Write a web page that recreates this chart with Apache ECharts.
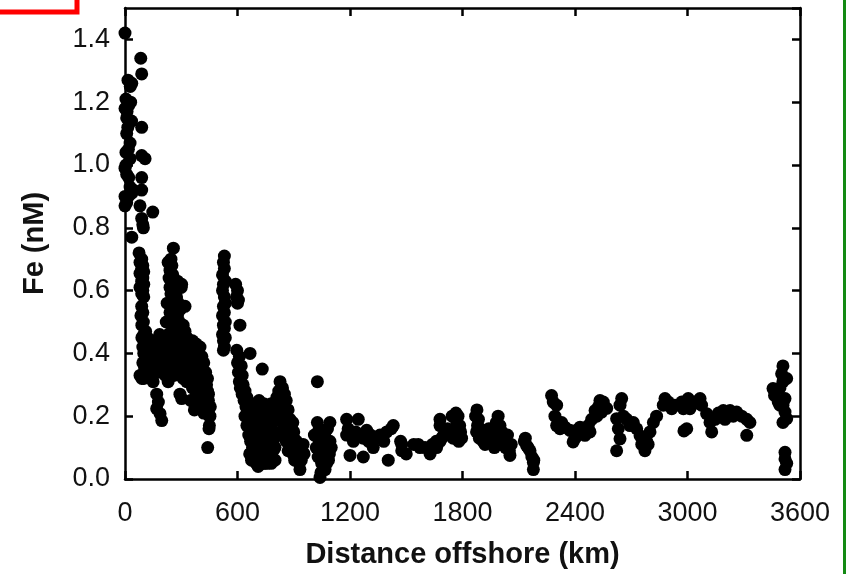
<!DOCTYPE html>
<html>
<head>
<meta charset="utf-8">
<script src="https://cdn.jsdelivr.net/npm/echarts@6/dist/echarts.min.js"></script>
<style>
html,body{margin:0;padding:0;background:#fff;}
#chart{width:846px;height:574px;}
</style>
</head>
<body>
<div id="chart"></div>
<script>
// Tick labels
const xTicks = [0, 600, 1200, 1800, 2400, 3000, 3600];
const yTicks = [0.0, 0.2, 0.4, 0.6, 0.8, 1.0, 1.2, 1.4];

// Data: [distance offshore (km), Fe (nM)]
const nearshore = [[0,1.42],[84,1.34],[89,1.29],[16,1.27],[36,1.26],[28,1.25],[5,1.21],[30,1.20],[20,1.19],[0,1.18],[11,1.17],[9,1.15],[89,1.12],[9,1.10],[27,1.07],[18,1.05],[5,1.04],[89,1.03],[107,1.02],[27,1.02],[5,1.00],[0,0.99],[9,0.97],[89,0.96],[27,0.93],[44,0.92],[89,0.92],[0,0.90],[9,0.88],[0,0.87],[80,0.87],[148,0.85],[89,0.83],[98,0.80],[36,0.77],[95,0.81],[18,0.90],[36,0.91],[20,0.96],[15,1.12],[35,1.14]];
const segA = [[75,0.72],[89,0.70],[80,0.69],[95,0.68],[89,0.67],[100,0.66],[80,0.655],[95,0.64],[89,0.63],[100,0.62],[80,0.61],[95,0.60],[89,0.59],[100,0.58],[89,0.55],[95,0.53],[85,0.52],[98,0.50],[90,0.49],[110,0.47],[100,0.46],[120,0.45],[90,0.45],[105,0.44],[130,0.43],[95,0.42],[115,0.41],[140,0.41],[100,0.40],[125,0.39],[110,0.38],[135,0.37],[95,0.37],[120,0.36],[140,0.35],[105,0.35],[130,0.34],[80,0.33],[100,0.32],[90,0.32],[145,0.33],[150,0.31],[169,0.27],[178,0.245],[169,0.224],[187,0.208],[196,0.186]];
const segB = [[258,0.735],[245,0.70],[230,0.69],[250,0.68],[240,0.665],[255,0.65],[235,0.64],[250,0.63],[265,0.625],[240,0.61],[255,0.60],[270,0.61],[300,0.61],[302,0.62],[245,0.59],[260,0.57],[250,0.55],[270,0.55],[320,0.55],[260,0.53],[280,0.52],[255,0.51],[290,0.50],[270,0.49],[310,0.49],[300,0.48],[250,0.47],[275,0.46],[320,0.47],[230,0.46],[210,0.45],[290,0.44],[340,0.44],[215,0.43],[260,0.42],[300,0.42],[350,0.42],[230,0.41],[280,0.40],[320,0.40],[360,0.40],[250,0.39],[300,0.38],[340,0.38],[220,0.37],[270,0.36],[320,0.36],[370,0.36],[240,0.35],[290,0.34],[350,0.34],[380,0.33],[260,0.33],[310,0.32],[230,0.31],[293,0.27],[302,0.256],[329,0.31]];
const segB2 = [[200,0.44],[215,0.40],[225,0.38],[240,0.43],[245,0.38],[255,0.36],[265,0.40],[280,0.37],[285,0.43],[295,0.40],[305,0.36],[315,0.43],[330,0.42],[335,0.35],[345,0.37],[355,0.38],[365,0.33],[375,0.30],[385,0.38],[395,0.34],[405,0.31],[415,0.29],[425,0.27],[435,0.30],[395,0.28],[385,0.25],[405,0.26],[415,0.24],[425,0.22],[435,0.26],[445,0.27],[455,0.23],[160,0.44],[170,0.40],[180,0.42],[190,0.38],[165,0.36],[175,0.34],[185,0.46],[195,0.41],[205,0.35],[215,0.33],[150,0.38],[155,0.43],[275,0.58],[285,0.56],[265,0.59],[295,0.54],[280,0.63],[280,0.47],[300,0.45],[310,0.44],[330,0.45],[240,0.53],[225,0.56],[220,0.50]];
const segC = [[360,0.44],[380,0.43],[400,0.42],[370,0.41],[390,0.40],[410,0.39],[420,0.37],[400,0.36],[380,0.35],[430,0.34],[410,0.33],[390,0.32],[440,0.32],[420,0.31],[400,0.30],[430,0.29],[410,0.28],[440,0.28],[380,0.27],[420,0.26],[445,0.25],[400,0.25],[430,0.24],[410,0.23],[440,0.22],[420,0.21],[450,0.20],[360,0.29],[350,0.25],[370,0.22],[453,0.20],[450,0.17],[448,0.16],[441,0.10]];
const segD = [[530,0.71],[525,0.69],[530,0.67],[520,0.65],[535,0.63],[525,0.62],[520,0.60],[530,0.58],[535,0.56],[525,0.55],[530,0.53],[520,0.52],[535,0.50],[525,0.49],[530,0.48],[520,0.46],[535,0.45],[525,0.44],[530,0.42],[525,0.41]];
const segE = [[590,0.62],[600,0.60],[595,0.58],[605,0.57],[600,0.56],[613,0.49]];
const segF = [[596,0.41],[610,0.39],[600,0.37],[620,0.36],[605,0.34],[625,0.33],[610,0.31],[630,0.30],[615,0.29],[640,0.28],[625,0.27],[650,0.26],[635,0.25],[660,0.24],[645,0.23],[670,0.22],[655,0.21],[680,0.20],[665,0.19],[690,0.18],[700,0.17],[675,0.16],[710,0.15],[685,0.14],[720,0.13],[695,0.12],[730,0.11],[705,0.10],[740,0.09],[715,0.08],[750,0.07],[725,0.06],[760,0.05],[735,0.05],[667,0.40],[732,0.35],[700,0.22],[720,0.20],[740,0.19],[760,0.18],[750,0.15],[770,0.14],[760,0.12],[780,0.11],[790,0.09],[770,0.08],[800,0.06],[780,0.05],[700,0.05],[690,0.07],[710,0.12],[730,0.16],[750,0.22],[740,0.24],[680,0.10],[700,0.09]];
const segF2 = [[640,0.20],[650,0.17],[660,0.14],[670,0.12],[680,0.15],[690,0.21],[705,0.19],[715,0.22],[725,0.18],[735,0.14],[745,0.12],[755,0.10],[765,0.16],[775,0.20],[785,0.18],[795,0.15],[790,0.12],[800,0.10],[720,0.09],[730,0.07],[745,0.05],[755,0.08],[765,0.06],[775,0.10],[710,0.04],[720,0.05],[690,0.10],[700,0.14],[685,0.17],[695,0.24],[715,0.25],[770,0.22],[780,0.24],[790,0.20],[665,0.08],[675,0.06]];
const segG = [[827,0.31],[840,0.29],[820,0.28],[850,0.27],[830,0.26],[860,0.25],[815,0.24],[845,0.23],[870,0.22],[825,0.21],[855,0.20],[880,0.19],[840,0.18],[865,0.17],[890,0.16],[850,0.15],[875,0.14],[900,0.13],[860,0.12],[885,0.11],[910,0.10],[870,0.09],[895,0.08],[920,0.07],[905,0.06],[933,0.03],[930,0.05],[800,0.23],[810,0.19],[830,0.14],[900,0.15],[915,0.12]];
const segG2 = [[810,0.26],[820,0.22],[835,0.20],[845,0.17],[855,0.13],[865,0.15],[875,0.11],[885,0.14],[895,0.10],[905,0.09],[915,0.08],[925,0.09],[940,0.06],[835,0.27],[860,0.22],[870,0.19],[880,0.16],[890,0.12],[895,0.18],[920,0.10],[945,0.09],[950,0.11],[955,0.08]];
const segH = [[1026,0.31],[1026,0.18],[1093,0.18],[1031,0.13],[1040,0.11],[1076,0.10],[1049,0.05],[1040,0.005],[1067,0.03],[1093,0.12],[1060,0.08],[1055,0.15],[1020,0.10],[1085,0.06],[1045,0.02],[1070,0.12],[1010,0.14],[1035,0.16],[1050,0.12],[1065,0.14],[1080,0.16],[1100,0.10],[1090,0.08],[1055,0.09],[1030,0.07],[1075,0.05]];
const segI = [[1182,0.19],[1244,0.19],[1182,0.14],[1218,0.12],[1200,0.075],[1271,0.07],[1289,0.155],[1253,0.14],[1230,0.15],[1270,0.13],[1300,0.12],[1324,0.10],[1360,0.14],[1396,0.15],[1431,0.17],[1404,0.06],[1340,0.13],[1380,0.12],[1310,0.14],[1420,0.16],[1190,0.16],[1210,0.15]];
const segJ = [[1476,0.11],[1476,0.09],[1470,0.12],[1500,0.08],[1540,0.11],[1564,0.11],[1573,0.10],[1600,0.10],[1627,0.08],[1640,0.11],[1660,0.12],[1680,0.19],[1680,0.17],[1689,0.13],[1662,0.10],[1680,0.12],[1700,0.14],[1720,0.16],[1733,0.15],[1745,0.20],[1750,0.13]];
const segK = [[1765,0.21],[1776,0.20],[1770,0.18],[1785,0.17],[1760,0.16],[1790,0.15],[1775,0.14],[1795,0.13],[1780,0.12]];
const segL = [[1877,0.22],[1870,0.20],[1885,0.19],[1880,0.17],[1895,0.16],[1875,0.15],[1900,0.14],[1890,0.13],[1910,0.12],[1920,0.11],[1930,0.14],[1950,0.12],[1960,0.15],[1990,0.20],[1980,0.18],[2000,0.17],[2010,0.15],[1985,0.13],[2020,0.12],[2030,0.10],[2040,0.14],[2050,0.09],[2053,0.075],[2060,0.11],[1940,0.16],[1970,0.10],[2000,0.11]];
const segM = [[2130,0.12],[2142,0.106],[2150,0.10],[2160,0.09],[2170,0.07],[2178,0.053],[2178,0.03],[2180,0.06],[2135,0.13]];
const segN = [[2275,0.266],[2284,0.245],[2302,0.235],[2293,0.20],[2302,0.17],[2320,0.16],[2346,0.165],[2373,0.155],[2390,0.118],[2408,0.155],[2427,0.165],[2329,0.18],[2400,0.13],[2415,0.14]];
const segO = [[2453,0.139],[2471,0.17],[2489,0.19],[2507,0.218],[2533,0.25],[2551,0.245],[2516,0.20],[2480,0.15],[2542,0.213],[2569,0.225],[2460,0.16],[2525,0.23]];
const segP = [[2649,0.256],[2640,0.235],[2622,0.192],[2631,0.16],[2640,0.128],[2622,0.09],[2658,0.20],[2676,0.19],[2693,0.17]];
const segQ = [[2711,0.18],[2729,0.16],[2747,0.138],[2773,0.09],[2782,0.12],[2800,0.15],[2818,0.18],[2835,0.20],[2756,0.11],[2790,0.11]];
const segR = [[2880,0.256],[2871,0.235],[2898,0.245],[2933,0.235],[2969,0.245],[2996,0.16],[3004,0.256],[3022,0.235],[3067,0.256],[3040,0.245],[3075,0.235],[2978,0.224],[3013,0.224],[2916,0.224],[2981,0.153]];
const segS = [[3102,0.208],[3120,0.18],[3129,0.15],[3147,0.19],[3165,0.21],[3191,0.218],[3227,0.218],[3262,0.213],[3289,0.20],[3316,0.19],[3333,0.18],[3316,0.139],[3244,0.20],[3200,0.19]];
const segT = [[3509,0.36],[3502,0.335],[3509,0.31],[3493,0.29],[3456,0.288],[3464,0.266],[3484,0.245],[3509,0.235],[3520,0.213],[3529,0.192],[3509,0.18],[3529,0.32],[3520,0.256],[3493,0.235],[3520,0.085],[3520,0.064],[3529,0.05],[3520,0.03]];

const allPoints = [].concat(nearshore, segA, segB, segB2, segC, segD, segE, segF, segF2, segG, segG2, segH, segI, segJ, segK, segL, segM, segN, segO, segP, segQ, segR, segS, segT);

const chart = echarts.init(document.getElementById('chart'), null, {renderer: 'canvas'});
const FONT = '"Liberation Sans", Arial, sans-serif';
const lineStyle = {color: '#000', width: 2.5};
const tickStyle = {show: true, inside: true, length: 8, lineStyle: {color: '#000', width: 2.5}};

chart.setOption({
  animation: false,
  backgroundColor: '#fff',
  grid: {left: 125, right: 46, top: 8, bottom: 93},
  xAxis: [{
    type: 'value', min: xTicks[0], max: xTicks[xTicks.length - 1], interval: 600,
    position: 'bottom',
    axisLine: {show: true, onZero: false, lineStyle: lineStyle},
    axisTick: tickStyle,
    splitLine: {show: false},
    axisLabel: {color: '#111', fontSize: 27, fontFamily: FONT, margin: 21,
      formatter: function (v) { return String(v); }},
    name: 'Distance offshore (km)', nameLocation: 'middle', nameGap: 61,
    nameTextStyle: {color: '#111', fontSize: 29, fontWeight: 'bold', fontFamily: FONT}
  }, {
    type: 'value', min: xTicks[0], max: xTicks[xTicks.length - 1], interval: 600,
    position: 'top',
    axisLine: {show: true, onZero: false, lineStyle: lineStyle},
    axisTick: tickStyle,
    splitLine: {show: false},
    axisLabel: {show: false}
  }],
  yAxis: [{
    type: 'value', min: 0, max: 1.5, interval: 0.2,
    position: 'left',
    axisLine: {show: true, onZero: false, lineStyle: lineStyle},
    axisTick: tickStyle,
    splitLine: {show: false},
    axisLabel: {color: '#111', fontSize: 27, fontFamily: FONT, margin: 15, showMaxLabel: false,
      formatter: function (v) { return yTicks.some(t => Math.abs(t - v) < 1e-6) ? v.toFixed(1) : ''; }},
    name: 'Fe (nM)', nameLocation: 'middle', nameGap: 76, nameRotate: 90,
    nameTextStyle: {color: '#111', fontSize: 29, fontWeight: 'bold', fontFamily: FONT}
  }, {
    type: 'value', min: 0, max: 1.5, interval: 0.2,
    position: 'right',
    axisLine: {show: true, onZero: false, lineStyle: lineStyle},
    axisTick: tickStyle,
    splitLine: {show: false},
    axisLabel: {show: false}
  }],
  series: [{
    type: 'scatter',
    xAxisIndex: 0, yAxisIndex: 0,
    data: allPoints,
    symbol: 'circle',
    symbolSize: 13,
    itemStyle: {color: '#000', opacity: 1},
    clip: false,
    silent: true
  }],
  graphic: [
    {type: 'rect', shape: {x: -20, y: -20, width: 97, height: 32}, style: {fill: 'none', stroke: '#ff0000', lineWidth: 5}, silent: true},
    {type: 'rect', shape: {x: 843, y: 0, width: 3, height: 574}, style: {fill: '#138a13'}, silent: true}
  ]
});
</script>
</body>
</html>
